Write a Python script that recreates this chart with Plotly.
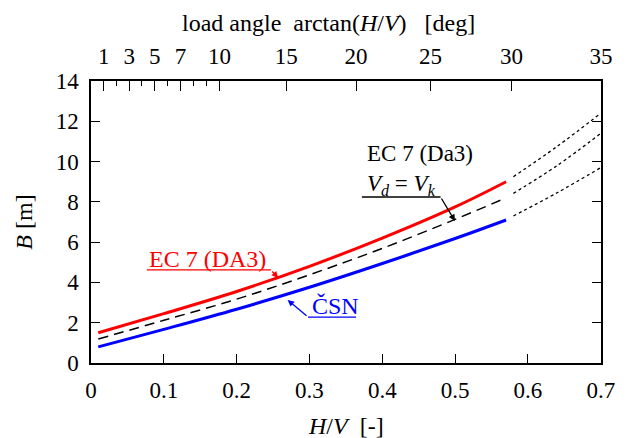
import numpy as np
import plotly.graph_objects as go

# ---- data ----
hv = [0.01, 0.1, 0.2, 0.3, 0.4, 0.5, 0.57]
ec7_da3 = [1.5, 2.45, 3.55, 4.8, 6.2, 7.75, 9.0]
ec7_vd_vk = [1.19, 2.12, 3.17, 4.38, 5.69, 7.13, 8.2]
csn = [0.8, 1.67, 2.67, 3.76, 4.94, 6.18, 7.1]

hv_ext = [0.58, 0.64, 0.7]
ec7_da3_ext = [9.25, 10.75, 12.4]
ec7_vd_vk_ext = [8.42, 9.8, 11.4]
csn_ext = [7.3, 8.45, 9.7]

x_ticks = [0, 0.1, 0.2, 0.3, 0.4, 0.5, 0.6, 0.7]
x_ticklabels = ["0", "0.1", "0.2", "0.3", "0.4", "0.5", "0.6", "0.7"]
y_ticks = [0, 2, 4, 6, 8, 10, 12, 14]
deg_ticks = [1, 3, 5, 7, 10, 15, 20, 25, 30, 35]
deg_minor = [2, 4, 6, 8, 9]

FONT = "Liberation Serif, Times New Roman, Times, DejaVu Serif, serif"
FS = 23
LFS = 24
XMAX = 0.7003
fig = go.Figure()

for xs, ys in [(hv_ext, ec7_da3_ext), (hv_ext, ec7_vd_vk_ext), (hv_ext, csn_ext)]:
    fig.add_trace(go.Scatter(x=xs, y=ys, mode="lines", line=dict(color="black", width=1.3, dash="dot", shape="spline"), showlegend=False))

fig.add_trace(go.Scatter(x=hv, y=ec7_vd_vk, mode="lines",
                         line=dict(color="black", width=1.5, dash="10px,6px", shape="spline"), showlegend=False))
fig.add_trace(go.Scatter(x=hv, y=ec7_da3, mode="lines",
                         line=dict(color="#ff0000", width=3, shape="spline"), showlegend=False))
fig.add_trace(go.Scatter(x=hv, y=csn, mode="lines",
                         line=dict(color="#0000ff", width=3, shape="spline"), showlegend=False))
# dummy trace for top axis
fig.add_trace(go.Scatter(x=[None], y=[None], xaxis="x2", showlegend=False))

tick_font = dict(family=FONT, size=FS, color="black")
fig.update_layout(
    width=627, height=438,
    margin=dict(l=91, r=15, t=81, b=75),
    paper_bgcolor="white", plot_bgcolor="white",
    font=dict(family=FONT, size=FS, color="black"),
    xaxis=dict(range=[0, XMAX], tickvals=x_ticks, ticktext=x_ticklabels, ticks="inside", ticklen=9,
               tickwidth=1.3, tickcolor="black", showline=True, linecolor="black", linewidth=1.5,
               showgrid=False, zeroline=False, tickfont=tick_font, ticklabelstandoff=6),
    xaxis2=dict(range=[0, XMAX], overlaying="x", side="top", anchor="y",
                tickvals=[float(np.tan(np.radians(d))) for d in deg_ticks],
                ticktext=[str(d) for d in deg_ticks], ticks="inside", ticklen=10, tickwidth=1.3,
                tickcolor="black", showline=True, linecolor="black", linewidth=1.5,
                minor=dict(tickmode="array", tickvals=[float(np.tan(np.radians(d))) for d in deg_minor],
                           ticks="inside", ticklen=5, tickwidth=1.3, tickcolor="black", showgrid=False),
                showgrid=False, zeroline=False, tickfont=tick_font, ticklabelstandoff=6),
    yaxis=dict(range=[0, 14], tickvals=y_ticks, ticks="inside", ticklen=9, tickwidth=1.3,
               tickcolor="black", showline=True, linecolor="black", linewidth=1.5, mirror="ticks",
               showgrid=False, zeroline=False, tickfont=tick_font, ticklabelstandoff=6),
)

ann = []
ann.append(dict(text="load angle  arctan(<i>H</i>/<i>V</i>)   [deg]", xref="paper", yref="paper",
                x=0.465, y=1.207, xanchor="center", yanchor="middle", showarrow=False,
                font=dict(family=FONT, size=LFS)))
ann.append(dict(text="<i>H</i>/<i>V</i>  [-]", xref="paper", yref="paper",
                x=0.5, y=-0.223, xanchor="center", yanchor="middle", showarrow=False,
                font=dict(family=FONT, size=LFS)))
ann.append(dict(text="<i>B</i> [m]", xref="paper", yref="paper", textangle=-90,
                x=-0.132, y=0.5, xanchor="center", yanchor="middle", showarrow=False,
                font=dict(family=FONT, size=LFS)))
# labels
ann.append(dict(text="EC 7 (DA3)", x=0.160, y=4.62, xref="x", yref="y", yanchor="bottom",
                showarrow=False, font=dict(family=FONT, size=LFS, color="#ff0000"), yshift=-4))
ann.append(dict(text="ČSN", x=0.336, y=2.28, xref="x", yref="y", yanchor="bottom",
                showarrow=False, font=dict(family=FONT, size=LFS, color="#0000ff"), yshift=-4))
ann.append(dict(text="EC 7 (Da3)<br><i>V</i><sub><i>d</i></sub> = <i>V</i><sub><i>k</i></sub>",
                x=0.376, y=8.24, xref="x", yref="y", yanchor="bottom", xanchor="left", align="left",
                showarrow=False, font=dict(family=FONT, size=LFS - 1, color="black"), yshift=-4))
# arrows
ann.append(dict(text="", x=0.257, y=4.22, ax=0.247, ay=4.62, xref="x", yref="y", axref="x", ayref="y",
                showarrow=True, arrowhead=2, arrowsize=1, arrowwidth=1.3, arrowcolor="#ff0000"))
ann.append(dict(text="", x=0.270, y=3.13, ax=0.298, ay=2.28, xref="x", yref="y", axref="x", ayref="y",
                showarrow=True, arrowhead=2, arrowsize=1, arrowwidth=1.3, arrowcolor="#0000ff"))
ann.append(dict(text="", x=0.4998, y=7.05, ax=0.480, ay=8.24, xref="x", yref="y", axref="x", ayref="y",
                showarrow=True, arrowhead=2, arrowsize=1, arrowwidth=1.3, arrowcolor="black"))
fig.update_layout(annotations=ann)

# underlines
fig.add_shape(type="line", x0=0.0766, x1=0.247, y0=4.62, y1=4.62, xref="x", yref="y",
              line=dict(color="#ff0000", width=1.3))
fig.add_shape(type="line", x0=0.298, x1=0.364, y0=2.28, y1=2.28, xref="x", yref="y",
              line=dict(color="#0000ff", width=1.3))
fig.add_shape(type="line", x0=0.372, x1=0.480, y0=8.24, y1=8.24, xref="x", yref="y",
              line=dict(color="black", width=1.3))

fig.write_html("out.html", config={"displayModeBar": False},
               post_script="document.body.style.margin='0';document.body.style.padding='0';")
